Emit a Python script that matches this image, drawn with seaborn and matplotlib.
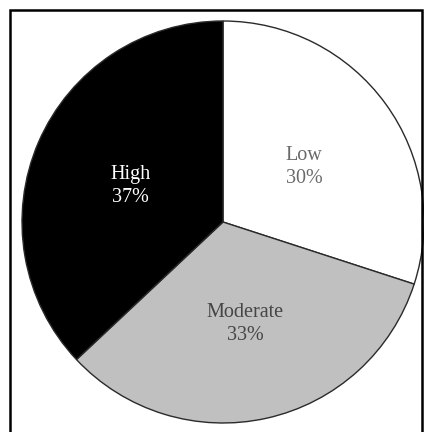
import matplotlib
matplotlib.use("Agg")
import matplotlib.pyplot as plt
import seaborn as sns
from matplotlib.patches import Rectangle

# data
categorias = ["Low", "Moderate", "High"]
percentuais = [30, 33, 37]
cores = ["#ffffff", "#c0c0c0", "#000000"]
cores_texto = ["#6a6a6a", "#454545", "#ffffff"]

sns.set_style("white")
plt.rcParams['font.family'] = ['Liberation Serif', 'DejaVu Serif']

fig = plt.figure(figsize=(4.24, 4.32), dpi=100)

# pie area (circle of radius ~202 px centred at 223, 222)
ax = fig.add_axes([21 / 424, 8 / 432, 404 / 424, 404 / 432])

rotulos = [f"{c}\n{p}%" for c, p in zip(categorias, percentuais)]
wedges, textos = ax.pie(
    percentuais,
    labels=rotulos,
    colors=cores,
    startangle=90,
    counterclock=False,
    radius=1,
    labeldistance=0.5,
    wedgeprops={"edgecolor": "#2a2a2a", "linewidth": 1.0},
    textprops={"fontsize": 14.5, "ha": "center", "va": "center", "linespacing": 1.3},
)
# cores dos rotulos e pequeno ajuste vertical
for t, c in zip(textos, cores_texto):
    t.set_color(c)
    t.set_horizontalalignment("center")
    x, y = t.get_position()
    t.set_position((x, y - 0.02))

ax.set_xlim(-1.005, 1.005)
ax.set_ylim(-1.005, 1.005)
ax.set_aspect("equal")
ax.axis("off")

# outer frame
fig.patches.append(Rectangle((10 / 424, -0.05), 412 / 424, 1.05 - 10 / 432,
                             transform=fig.transFigure, fill=False,
                             edgecolor="black", linewidth=1.8))

plt.savefig("out.png", dpi=100)
